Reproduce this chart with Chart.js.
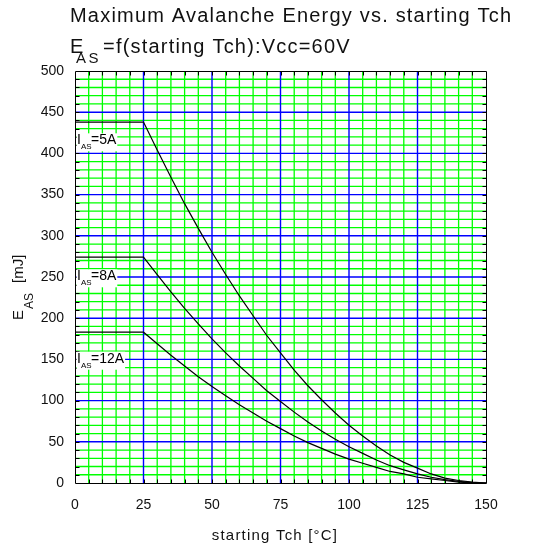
<!DOCTYPE html>
<html>
<head>
<meta charset="utf-8">
<title>Maximum Avalanche Energy vs. starting Tch</title>
<script src="https://cdn.jsdelivr.net/npm/chart.js@4.4.0/dist/chart.umd.min.js"></script>
<style>
  html, body { margin: 0; padding: 0; background: #fff; }
  #wrap { width: 557px; height: 550px; }
</style>
</head>
<body>
<div id="wrap"><canvas id="EasChart" width="557" height="550"></canvas></div>
<script>
// starting channel temperature [°C]
const startTemps = [0, 25, 30, 35, 40, 45, 50, 55, 60, 65, 70, 75, 80, 85, 90, 95, 100, 105, 110, 115, 120, 125, 130, 135, 140, 145, 150];

// avalanche energy [mJ] per avalanche current
const eas5A = [438, 438, 404, 371, 339, 309, 280, 253, 227, 203, 179, 158, 137, 118, 101, 85, 70, 57, 45, 34, 25, 18, 11, 6, 3, 1, 0];
const eas8A = [274, 274, 253, 232, 212, 193, 175, 158, 142, 127, 112, 99, 86, 74, 63, 53, 44, 36, 28, 21, 16, 11, 7, 4, 2, 0.4, 0];
const eas12A = [183, 183, 169, 155, 142, 129, 117, 106, 95, 85, 75, 66, 57, 49, 42, 35, 29, 24, 19, 14, 11, 7, 5, 3, 1, 0.3, 0];

const currentNames = ["5A", "8A", "12A"];
const xTicks = [0, 25, 50, 75, 100, 125, 150];
const yTicks = [0, 50, 100, 150, 200, 250, 300, 350, 400, 450, 500];

const FONT = '"Liberation Sans", Arial, sans-serif';
const BLUE = "#0000ff";
const GREEN = "#00ff00";

const toPoints = (vals) => startTemps.map((t, i) => ({ x: t, y: vals[i] }));

const curve = (vals) => ({
  data: toPoints(vals),
  borderColor: "#000",
  borderWidth: 1.2,
  pointRadius: 0,
  tension: 0,
  fill: false,
});

function drawText(ctx, text, x, y, size, spacing) {
  ctx.font = size + "px " + FONT;
  ctx.letterSpacing = (spacing || 0) + "px";
  ctx.fillText(text, x, y);
  ctx.letterSpacing = "0px";
}

const px = (scale, v) => Math.round(scale.getPixelForValue(v)) + 0.5;

// green minor grid every 5 °C / 10 mJ, blue major grid on top
const gridLines = {
  id: "gridLines",
  beforeDatasetsDraw(chart) {
    const ctx = chart.ctx;
    const area = chart.chartArea;
    const xs = chart.scales.x;
    const ys = chart.scales.y;
    ctx.save();
    [[GREEN, false, 1.3], [BLUE, true, 1.4]].forEach(([color, major, width]) => {
      ctx.strokeStyle = color;
      ctx.lineWidth = width;
      ctx.beginPath();
      for (let v = 5; v < 150; v += 5) {
        if (xTicks.includes(v) !== major) continue;
        const x = xs.getPixelForValue(v);
        ctx.moveTo(x, area.top);
        ctx.lineTo(x, area.bottom);
      }
      for (let v = 10; v < 500; v += 10) {
        if (yTicks.includes(v) !== major) continue;
        const y = ys.getPixelForValue(v);
        ctx.moveTo(area.left, y);
        ctx.lineTo(area.right, y);
      }
      ctx.stroke();
    });
    ctx.restore();
  },
};

const decorations = {
  id: "decorations",
  afterDraw(chart) {
    const ctx = chart.ctx;
    const xs = chart.scales.x;
    const ys = chart.scales.y;
    const L = px(xs, 0), R = px(xs, 150), T = px(ys, 500), B = px(ys, 0);

    ctx.save();

    // frame and inward tick marks
    ctx.strokeStyle = "#000";
    ctx.lineWidth = 1;
    ctx.beginPath();
    for (let v = 5; v < 150; v += 5) {
      ctx.moveTo(px(xs, v), T);
      ctx.lineTo(px(xs, v), T + 4);
      ctx.moveTo(px(xs, v), B);
      ctx.lineTo(px(xs, v), B - 4);
    }
    for (let v = 10; v < 500; v += 10) {
      ctx.moveTo(L, px(ys, v));
      ctx.lineTo(L + 4, px(ys, v));
      ctx.moveTo(R, px(ys, v));
      ctx.lineTo(R - 4, px(ys, v));
    }
    ctx.rect(L, T, R - L, B - T);
    ctx.stroke();

    // current labels under each flat line
    const labelAt = [411, 246, 146];
    ctx.textBaseline = "alphabetic";
    ctx.textAlign = "left";
    currentNames.forEach((name, i) => {
      const x0 = xs.getPixelForValue(0) + 1.5;
      const y0 = ys.getPixelForValue(labelAt[i]);
      ctx.font = "14px " + FONT;
      const w = 14.5 + ctx.measureText("=" + name).width;
      ctx.fillStyle = "#fff";
      ctx.fillRect(x0, y0 - 11, w + 1, 18);
      ctx.fillStyle = "#000";
      drawText(ctx, "I", x0 + 0.5, y0, 14);
      drawText(ctx, "AS", x0 + 4.5, y0 + 5, 8);
      drawText(ctx, "=" + name, x0 + 14.5, y0, 14);
    });

    // chart title
    ctx.fillStyle = "#111";
    drawText(ctx, "Maximum Avalanche Energy vs. starting Tch", 70, 21.5, 20, 1.2);
    drawText(ctx, "E", 70, 52.5, 20, 1.2);
    drawText(ctx, "AS", 76, 63, 15, 2.5);
    drawText(ctx, "=f(starting Tch):Vcc=60V", 103, 52.5, 20, 1.2);

    // x axis title
    ctx.textAlign = "center";
    drawText(ctx, "starting Tch [\u00b0C]", 275, 540, 15, 1.2);

    // y axis title, rotated
    ctx.textAlign = "left";
    ctx.translate(23, 320);
    ctx.rotate(-Math.PI / 2);
    drawText(ctx, "E", 0, 0, 15);
    drawText(ctx, "AS", 11, 10, 12);
    drawText(ctx, "[mJ]", 37, 0, 15);

    ctx.restore();
  },
};

const ctx = document.getElementById("EasChart");
const EasChart = new Chart(ctx, {
  type: "line",
  data: {
    datasets: [curve(eas5A), curve(eas8A), curve(eas12A)],
  },
  options: {
    responsive: false,
    animation: false,
    events: [],
    layout: { padding: { left: 0, top: 71, right: 71, bottom: 0 } },
    plugins: {
      legend: { display: false },
      tooltip: { enabled: false },
    },
    scales: {
      x: {
        type: "linear",
        min: 0,
        max: 150,
        afterFit: (scale) => { scale.height = 67; },
        border: { display: false },
        grid: { display: false, drawTicks: false },
        ticks: {
          stepSize: 25,
          autoSkip: false,
          maxRotation: 0,
          padding: 14,
          color: "#111",
          font: { family: FONT, size: 14 },
        },
      },
      y: {
        type: "linear",
        min: 0,
        max: 500,
        afterFit: (scale) => { scale.width = 75; },
        border: { display: false },
        grid: { display: false, drawTicks: false },
        ticks: {
          stepSize: 50,
          autoSkip: false,
          padding: 11,
          color: "#111",
          font: { family: FONT, size: 14 },
        },
      },
    },
  },
  plugins: [gridLines, decorations],
});
</script>
</body>
</html>
